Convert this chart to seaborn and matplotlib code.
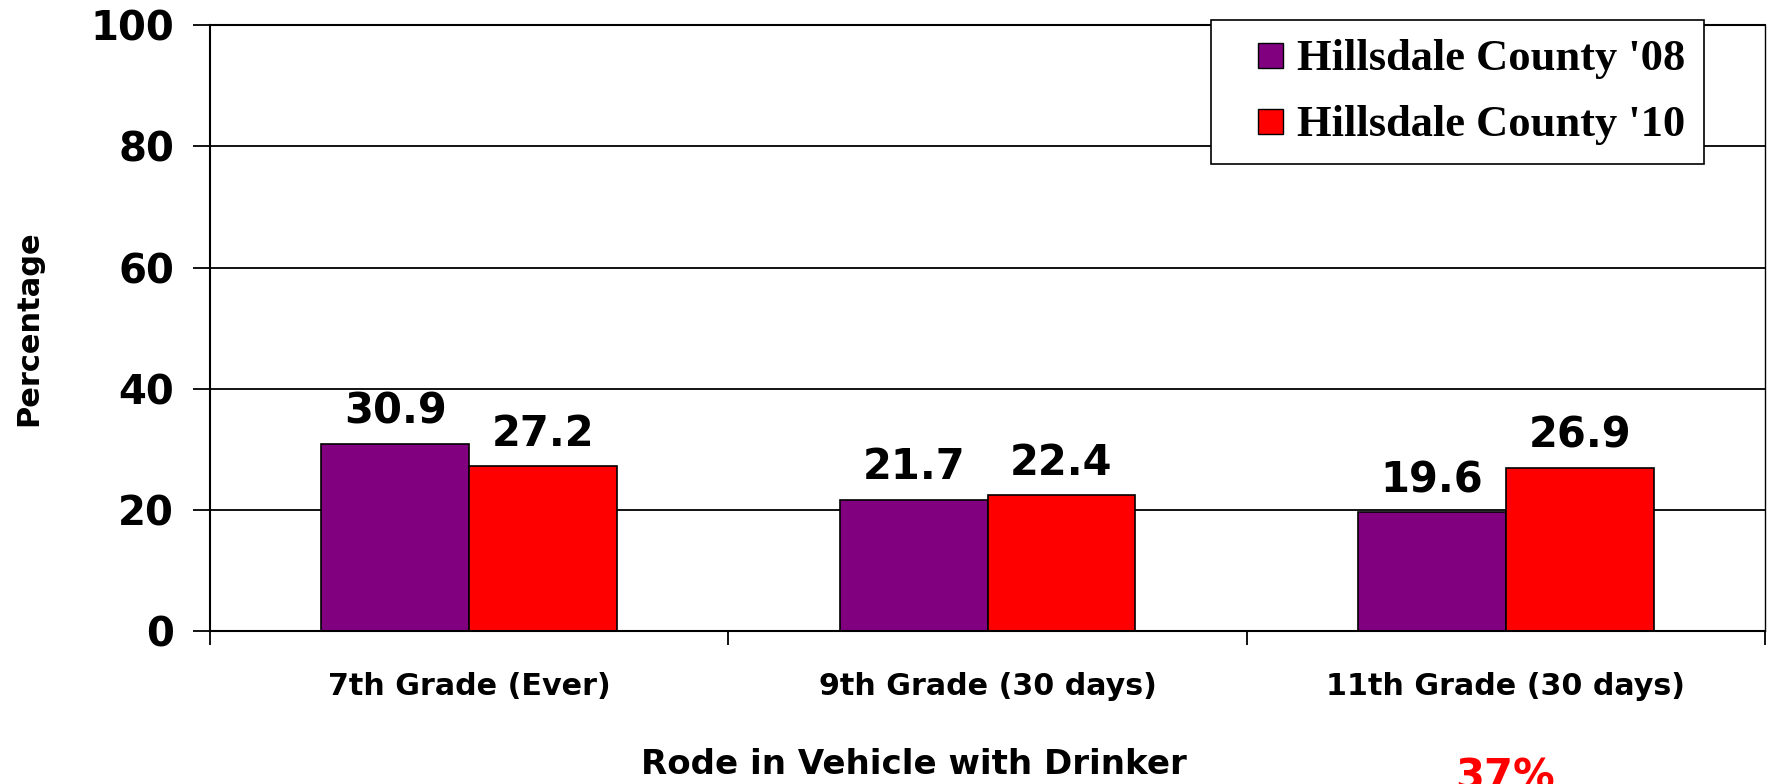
import pandas as pd
import seaborn as sns
from matplotlib import pyplot as plt
from matplotlib.lines import Line2D

categories = ["7th Grade (Ever)", "9th Grade (30 days)", "11th Grade (30 days)"]
series_names = ["Hillsdale County '08", "Hillsdale County '10"]
values_08 = [30.9, 21.7, 19.6]
values_10 = [27.2, 22.4, 26.9]
y_ticks = [0, 20, 40, 60, 80, 100]

colors = {series_names[0]: "#800080", series_names[1]: "#FF0000"}

df = pd.DataFrame({
    "grade": categories * 2,
    "series": [series_names[0]] * 3 + [series_names[1]] * 3,
    "value": values_08 + values_10,
})

sns.set_style("white")
plt.rcParams["font.family"] = ["DejaVu Sans"]
plt.rcParams["text.color"] = "black"
plt.rcParams["axes.labelcolor"] = "black"
plt.rcParams["xtick.color"] = "black"
plt.rcParams["ytick.color"] = "black"

fig = plt.figure(figsize=(17.71, 7.84), dpi=100)
ax = fig.add_axes([0.1186, 0.195, 0.878, 0.773])

sns.barplot(
    data=df, x="grade", y="value", hue="series", order=categories,
    hue_order=series_names, palette=colors, width=0.57, saturation=1,
    edgecolor="black", linewidth=1.2, ax=ax, legend=False,
)

for cont in ax.containers:
    ax.bar_label(cont, fmt="%.1f", padding=8, fontsize=30, fontweight="bold")

ax.set_ylim(0, 100)
ax.set_xlim(-0.5, 2.5)
ax.set_yticks(y_ticks)
ax.set_yticklabels([str(t) for t in y_ticks], fontsize=29, fontweight="bold")
ax.yaxis.grid(True, color="black", linewidth=1.3)
ax.set_axisbelow(True)

ax.set_xticks([-0.5, 0.5, 1.5, 2.5], minor=True)
ax.set_xticks(range(len(categories)))
ax.set_xticklabels(categories, fontsize=21.7, fontweight="bold")
ax.tick_params(axis="x", which="major", length=0, pad=29.5)
ax.tick_params(axis="x", which="minor", bottom=True, length=10, width=1.3,
               color="black", direction="out")
ax.tick_params(axis="y", left=True, length=12, width=1.3, color="black",
               direction="out", pad=14)

for side in ["left", "right", "top", "bottom"]:
    ax.spines[side].set_visible(True)
    ax.spines[side].set_color("black")
    ax.spines[side].set_linewidth(1.5)
ax.spines["right"].set_linewidth(1.0)

ax.set_xlabel("Rode in Vehicle with Drinker", fontsize=24.5, fontweight="bold")
ax.xaxis.set_label_coords(0.4525, -0.193)
ax.set_ylabel("Percentage", fontsize=22, fontweight="bold", labelpad=34)

handles = [
    Line2D([], [], linestyle="none", marker="s", markersize=18,
           markerfacecolor=colors[s], markeredgecolor="black", markeredgewidth=1)
    for s in series_names
]
leg = fig.legend(
    handles, series_names, loc="upper left", bbox_to_anchor=(1211 / 1771, 1 - 20 / 784),
    frameon=True, fancybox=False, framealpha=1, edgecolor="black",
    prop={"family": "Liberation Serif", "weight": "bold", "size": 32},
    handlelength=1.8, handletextpad=-0.3, labelspacing=0.58,
    borderpad=0.43, borderaxespad=0,
)
leg.get_frame().set_linewidth(1.2)

fig.text(1505 / 1771, 1 - 757 / 784, "37%", color="#FF0000", fontsize=30,
         fontweight="bold", ha="center", va="top")

fig.savefig("out.png", dpi=100)
